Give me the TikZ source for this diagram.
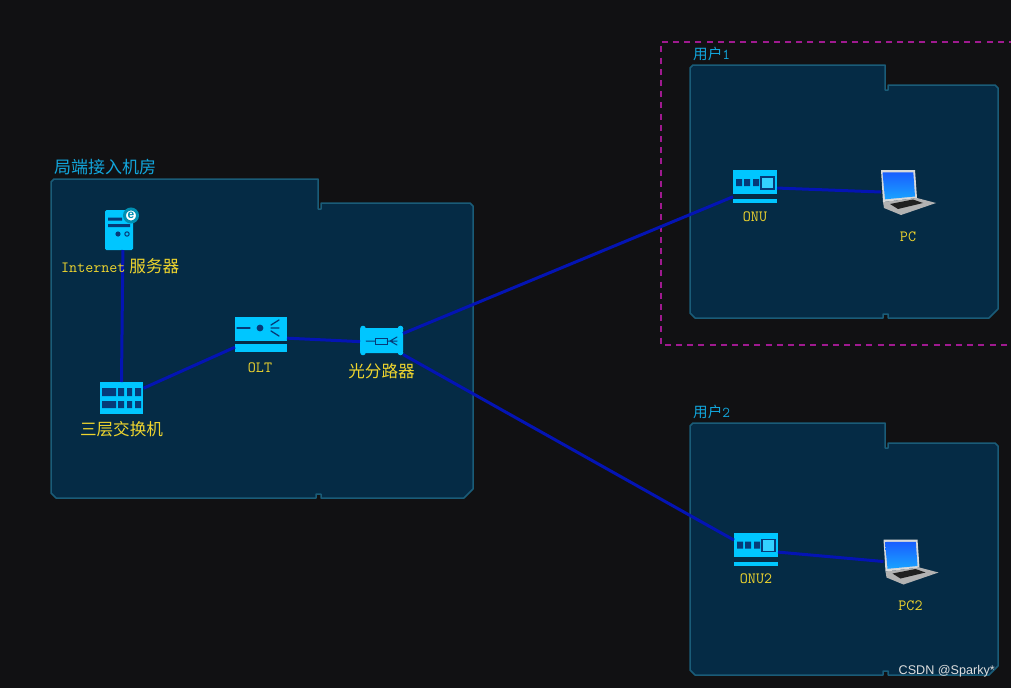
\documentclass[tikz,border=0pt]{standalone}
\usepackage{fontspec}
\setmainfont{Noto Sans CJK SC}
\setmonofont{Latin Modern Mono}
\newfontfamily\wmfont{Liberation Sans}
\usetikzlibrary{calc}
\definecolor{bgc}{HTML}{111113}
\definecolor{panelc}{HTML}{052B45}
\definecolor{panelb}{HTML}{1A5C78}
\definecolor{cyanic}{HTML}{00C6FF}
\definecolor{darkic}{HTML}{063A78}
\definecolor{linkc}{HTML}{0414B4}
\definecolor{yel}{HTML}{EFD52E}
\definecolor{titlec}{HTML}{12A6DC}
\definecolor{magc}{HTML}{A01A90}
\tikzset{
  panelshape/.style={fill=panelc,draw=panelb,line width=1.5pt,line join=round},
  hotspot/.style={inner sep=0pt,outer sep=0pt,rectangle},
  link/.style={draw=linkc,line width=3pt},
  devlabel/.style={inner sep=0pt,text=yel,font=\fontsize{16.6}{17}\selectfont},
  monolabel/.style={inner sep=0pt,text=yel,font=\ttfamily\bfseries\fontsize{15.6}{16}\selectfont},
  grouplabel/.style={inner sep=0pt,anchor=west,text=titlec,font=\fontsize{17}{17}\selectfont},
  icfill/.style={fill=cyanic,draw=none},
  icdark/.style={fill=darkic,draw=none},
  icline/.style={draw=darkic,line width=1.3pt,line cap=round},
}
% #1 left, #2 right, #3 top of tab, #4 tab right edge, #5 bottom, #6 notch depth below tab, #7 top of right part
\newcommand\panelbox[7]{%
  \path[panelshape] ({#1+3},#3) -- (#4,#3) -- (#4,#6) -- ({#4+3},#6) -- ({#4+3},#7) -- ({#2-3},#7)
    -- (#2,{#7+3}) -- (#2,{#5-9}) -- ({#2-9},#5) -- ({#4+3},#5) -- ({#4+3},{#5-4}) -- ({#4-2},{#5-4}) -- ({#4-2},#5)
    -- ({#1+5},#5) -- (#1,{#5-5}) -- (#1,{#3+3}) -- cycle;}
\newcommand\onuicon[2]{\begin{scope}[shift={(#1,#2)}]
  \fill[cyanic] (733,170) rectangle (777,194);
  \fill[cyanic] (733,199) rectangle (777,203);
  \fill[darkic] (736,179) rectangle (742,186) (744,179) rectangle (750,186) (753,179) rectangle (759,186);
  \path[fill=cyanic!80!white,draw=darkic,line width=1.3pt] (761,177) rectangle (774,189);
\end{scope}}
\newcommand\laptopicon[2]{\begin{scope}[shift={(#1,#2)}]
  \fill[gray!60!white] (883,202) -- (917,198) -- (936,203) -- (901,215) -- (884,208) -- cycle;
  \fill[black!75!gray] (890,204) -- (913,199.5) -- (923,203) -- (898,209) -- cycle;
  \fill[gray!30!white] (881,170) -- (915,170) -- (917,198) -- (883,202) -- cycle;
  \shade[top color=blue!70!cyan!90!white,bottom color=cyan!60!blue!90!white] (882.5,172.5) -- (913.3,172.3) -- (915,196.5) -- (885,199.3) -- cycle;
\end{scope}}
\begin{document}
\begin{tikzpicture}[x=1pt,y=-1pt]
\useasboundingbox (0,0) rectangle (1011,688);
\fill[bgc] (0,0) rectangle (1011,688);
% containers
\panelbox{51}{473}{179}{318}{498}{209}{203}
\panelbox{690}{998}{65}{885}{318}{90}{85}
\panelbox{690}{998}{423}{885}{675}{448}{443}
% selection frame
\draw[magc,line width=2.8pt,dash pattern=on 6pt off 5.2pt] (1015,42) -- (661,42) -- (661,345) -- (1015,345);
% server icon
\path[icfill,rounded corners=1.5pt] (105,210) rectangle (133,250);
\fill[darkic] (108,217.5) rectangle (122,220.5) (108,224) rectangle (130,227);
\fill[darkic] (118,234) circle (2.6);
\draw[darkic,line width=1pt] (127,234) circle (2.2);
\path[fill=white,draw=blue!20!cyan!70!black,line width=3pt] (131,215.5) circle (6.5);
% switch icon
\fill[cyanic] (100,382) rectangle (143,414);
\fill[darkic] (102,388) rectangle (116,396) (118,388) rectangle (124,396) (127,388) rectangle (132,396) (135,388) rectangle (141,396);
\fill[darkic] (102,401) rectangle (116,408) (118,401) rectangle (124,408) (127,401) rectangle (132,408) (135,401) rectangle (141,408);
% OLT icon
\fill[cyanic] (235,317) rectangle (287,341);
\fill[cyanic] (235,344) rectangle (287,352);
\draw[icline] (237,328) -- (250,328);
\fill[darkic] (260,328) circle (3.4);
\draw[icline] (271,325) -- (279,320) (271,328) -- (279,328) (271,331) -- (279,336);
% splitter icon
\path[icfill,rounded corners=2pt] (360,328) rectangle (403,353);
\fill[cyanic] (363,328.5) circle (2.8) (400.5,328.5) circle (2.8) (363,352.5) circle (2.8) (400.5,352.5) circle (2.8);
\draw[icline,line width=1pt] (366,341) -- (375,341) (387,341) -- (397,341) (397,337) -- (390,341) -- (397,345);
\draw[darkic,line width=1pt] (375,338) rectangle (387,344);
% ONU icons
\onuicon{0}{0}
\onuicon{1}{362.5}
% laptops
\laptopicon{0}{0}
\laptopicon{2.5}{369.5}
% connection hot spots
\node[hotspot,minimum width=28pt,minimum height=40pt] (server) at (119,230) {};
\node[hotspot,minimum width=44pt,minimum height=32pt] (sw) at (121.5,398) {};
\node[hotspot,minimum width=52pt,minimum height=35pt] (olt) at (261,334.5) {};
\node[hotspot,minimum width=43pt,minimum height=28pt] (split) at (381.5,340.5) {};
\node[hotspot,minimum width=44pt,minimum height=33pt] (onu) at (755,186.5) {};
\node[hotspot,minimum width=44pt,minimum height=33pt] (onutwo) at (756,549) {};
\node[hotspot,minimum width=55pt,minimum height=46pt] (pc) at (908.5,192) {};
\node[hotspot,minimum width=55pt,minimum height=46pt] (pctwo) at (911,561.5) {};
% connectors
\draw[link] (server.281) -- (sw.north);
\draw[link] (sw.24) -- (olt.206);
\draw[link] (olt.352) -- (split.183);
\draw[link] (split.18) -- (onu.205);
\draw[link] (split.327) -- (onutwo.158);
\draw[link] (onu.356) -- (pc.west);
\draw[link] (onutwo.352) -- (pctwo.west);
% badge letter
\node[inner sep=0pt,text=blue!20!cyan!70!black,font=\wmfont\bfseries\fontsize{12}{12}\selectfont] (badge) at (131,215) {e};
% labels
\node[grouplabel] (tmain) at (54,167) {局端接入机房};
\node[grouplabel,font=\fontsize{14.6}{15}\selectfont] (tone) at (693,54) {用户{\ttfamily\bfseries\fontsize{15}{15}\selectfont 1}};
\node[grouplabel,font=\fontsize{14.6}{15}\selectfont] (ttwo) at (693,412) {用户{\ttfamily\bfseries\fontsize{15}{15}\selectfont 2}};
\node[inner sep=0pt,anchor=west,text=yel,font=\fontsize{16.6}{17}\selectfont] (lserver) at (61,266) {{\ttfamily\bfseries\fontsize{15.6}{16}\selectfont Internet}\hspace{4pt}服务器};
\node[devlabel] (lsw) at (121.5,429) {三层交换机};
\node[monolabel] (lolt) at (260,368) {OLT};
\node[devlabel] (lsplit) at (381.5,371) {光分路器};
\node[monolabel] (lonu) at (755,217) {ONU};
\node[monolabel] (lpc) at (908,237) {PC};
\node[monolabel] (lonutwo) at (756,579) {ONU2};
\node[monolabel] (lpctwo) at (910.5,606) {PC2};
\node[inner sep=0pt,anchor=east,text=white!75!gray,font=\wmfont\fontsize{12.6}{13}\selectfont] (wm) at (995,671) {CSDN @Sparky*};
\end{tikzpicture}
\end{document}
